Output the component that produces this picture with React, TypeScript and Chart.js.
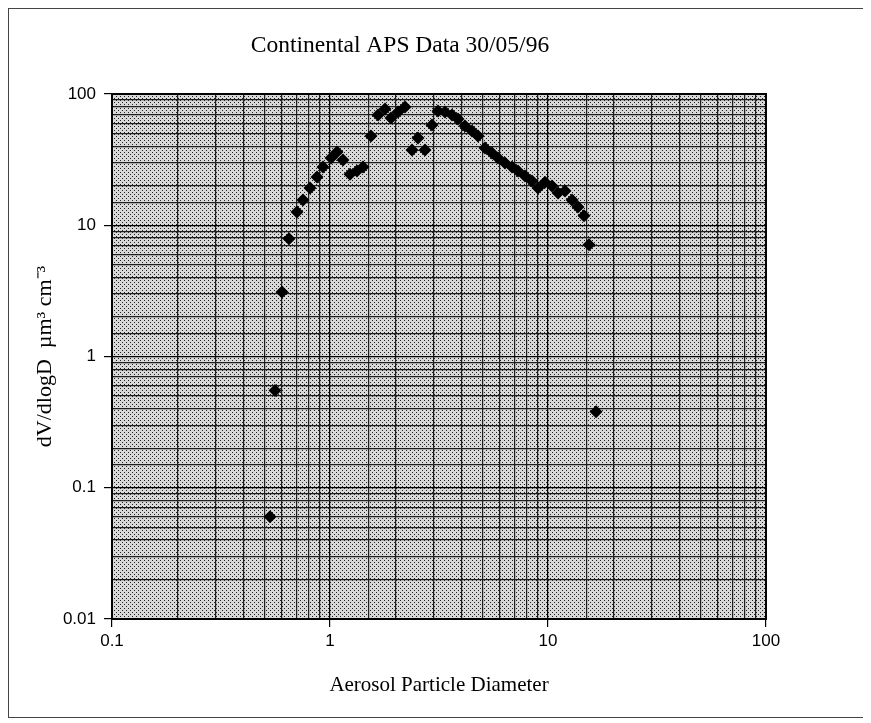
import React, { useEffect, useRef } from "react";
import { Chart, registerables } from "chart.js";

Chart.register(...registerables);

// Aerosol particle diameter (µm)
const diameters = [
  0.5305, 0.5594, 0.6023, 0.6484, 0.7058, 0.7518, 0.8097, 0.8718, 0.9288, 1.011,
  1.077, 1.147, 1.235, 1.33, 1.417, 1.542, 1.661, 1.788, 1.905, 2.051,
  2.208, 2.377, 2.534, 2.728, 2.937, 3.129, 3.369, 3.628, 3.866, 4.162,
  4.481, 4.774, 5.14, 5.535, 5.897, 6.351, 6.838, 7.286, 7.845, 8.446,
  8.999, 9.687, 10.43, 11.12, 11.97, 12.89, 13.73, 14.63, 15.42, 16.61,
];

// dV/dlogD (µm³ cm⁻³)
const dVdlogD = [
  0.06, 0.55, 3.1, 7.9, 12.6, 15.6, 19.2, 23.3, 27.8, 32.5,
  36.1, 31.4, 24.5, 25.9, 27.8, 47.9, 69.2, 76.9, 65.6, 72.9,
  79.6, 37.4, 46.2, 37.4, 58.0, 74.2, 72.9, 69.2, 64.5, 57.1,
  52.3, 47.9, 38.8, 35.5, 32.5, 29.8, 27.8, 25.9, 23.7, 21.7,
  19.2, 21.3, 19.9, 17.6, 18.2, 15.6, 13.8, 11.8, 7.1, 0.38,
];

const xTickLabels = ["0.1", "1", "10", "100"];
const yTickLabels = ["0.01", "0.1", "1", "10", "100"];

const titleText = "Continental APS Data 30/05/96";
const xTitleText = "Aerosol Particle Diameter";
const yTitleText = "dV/dlogD  \u00B5m\u00B3 cm\u207B\u00B3";

const isPow10 = (v: number) => {
  const l = Math.log10(v);
  return Math.abs(l - Math.round(l)) < 1e-9;
};

const labelFor = (labels: string[]) => (value: any) => {
  const v = Number(value);
  if (!isPow10(v)) return "";
  const found = labels.find((s) => Math.abs(Number(s) - v) < v * 1e-6);
  return found ?? "";
};

const framePlugin = {
  id: "frame",
  beforeDraw(chart: any) {
    const { ctx, chartArea, width, height } = chart;
    ctx.save();
    ctx.fillStyle = "#ffffff";
    ctx.fillRect(0, 0, width, height);
    const tile = document.createElement("canvas");
    tile.width = 4;
    tile.height = 4;
    const t = tile.getContext("2d")!;
    t.fillStyle = "#d8d8d8";
    t.fillRect(0, 0, 4, 4);
    t.fillStyle = "#222222";
    t.fillRect(0, 0, 1, 1);
    t.fillRect(2, 2, 1, 1);
    const pat = ctx.createPattern(tile, "repeat");
    ctx.fillStyle = pat;
    ctx.fillRect(
      chartArea.left,
      chartArea.top,
      chartArea.right - chartArea.left,
      chartArea.bottom - chartArea.top
    );
    // outer border
    ctx.strokeStyle = "#444";
    ctx.lineWidth = 1;
    ctx.strokeRect(0.5, 0.5, width - 1, height - 1);
    // title
    ctx.fillStyle = "#000";
    ctx.font = '23.5px "Liberation Serif", serif';
    ctx.textAlign = "center";
    ctx.textBaseline = "middle";
    ctx.fillText(titleText, 392, 38);
    ctx.restore();
  },
  afterDraw(chart: any) {
    const { ctx, chartArea } = chart;
    ctx.save();
    ctx.strokeStyle = "#000";
    ctx.lineWidth = 2;
    ctx.strokeRect(
      chartArea.left,
      chartArea.top,
      chartArea.right - chartArea.left,
      chartArea.bottom - chartArea.top
    );
    ctx.restore();
  },
};

const gridColor = (c: any) =>
  c.tick && isPow10(c.tick.value) ? "#000000" : "#1e1e1e";
const tickColor = (c: any) =>
  c.tick && isPow10(c.tick.value) ? "#000000" : "rgba(0,0,0,0)";

export default function App() {
  const ref = useRef<HTMLCanvasElement | null>(null);

  useEffect(() => {
    if (!ref.current) return;
    const data = diameters.map((x, i) => ({ x, y: dVdlogD[i] }));
    const chart = new Chart(ref.current, {
      type: "scatter",
      data: {
        datasets: [
          {
            data,
            pointStyle: "rectRot",
            pointRadius: 6.5,
            pointHoverRadius: 6.5,
            backgroundColor: "#000",
            borderColor: "#000",
            borderWidth: 0,
          },
        ],
      },
      plugins: [framePlugin],
      options: {
        animation: false,
        responsive: false,
        maintainAspectRatio: false,
        events: [],
        layout: { padding: { top: 86, right: 104, left: 0, bottom: 0 } },
        plugins: {
          legend: { display: false },
          tooltip: { enabled: false },
          title: { display: false },
        },
        scales: {
          x: {
            type: "logarithmic",
            min: 0.1,
            max: 100,
            afterFit: (s: any) => {
              s.height = 99;
            },
            border: { display: false },
            grid: {
              color: gridColor,
              tickColor: tickColor,
              lineWidth: 1.2,
              tickLength: 8,
              drawTicks: true,
            },
            ticks: {
              autoSkip: false,
              maxRotation: 0,
              minRotation: 0,
              padding: 4,
              color: "#000",
              font: { family: '"Liberation Sans", Arial, sans-serif', size: 17 },
              callback: labelFor(xTickLabels),
            },
            title: {
              display: true,
              text: xTitleText,
              color: "#000",
              font: { family: '"Liberation Serif", serif', size: 21 },
              padding: { top: 20, bottom: 20 },
            },
          },
          y: {
            type: "logarithmic",
            min: 0.01,
            max: 100,
            afterFit: (s: any) => {
              s.width = 104;
            },
            border: { display: false },
            grid: {
              color: gridColor,
              tickColor: tickColor,
              lineWidth: 1.2,
              tickLength: 8,
              drawTicks: true,
            },
            ticks: {
              autoSkip: false,
              padding: 8,
              color: "#000",
              font: { family: '"Liberation Sans", Arial, sans-serif', size: 17 },
              callback: labelFor(yTickLabels),
            },
            title: {
              display: true,
              text: yTitleText,
              color: "#000",
              font: { family: '"Liberation Serif", serif', size: 22 },
              padding: { top: 24, bottom: 24 },
            },
          },
        },
      },
    } as any);
    return () => chart.destroy();
  }, []);

  return (
    <canvas
      ref={ref}
      width={862}
      height={710}
      style={{ display: "block", width: 862, height: 710 }}
    />
  );
}
